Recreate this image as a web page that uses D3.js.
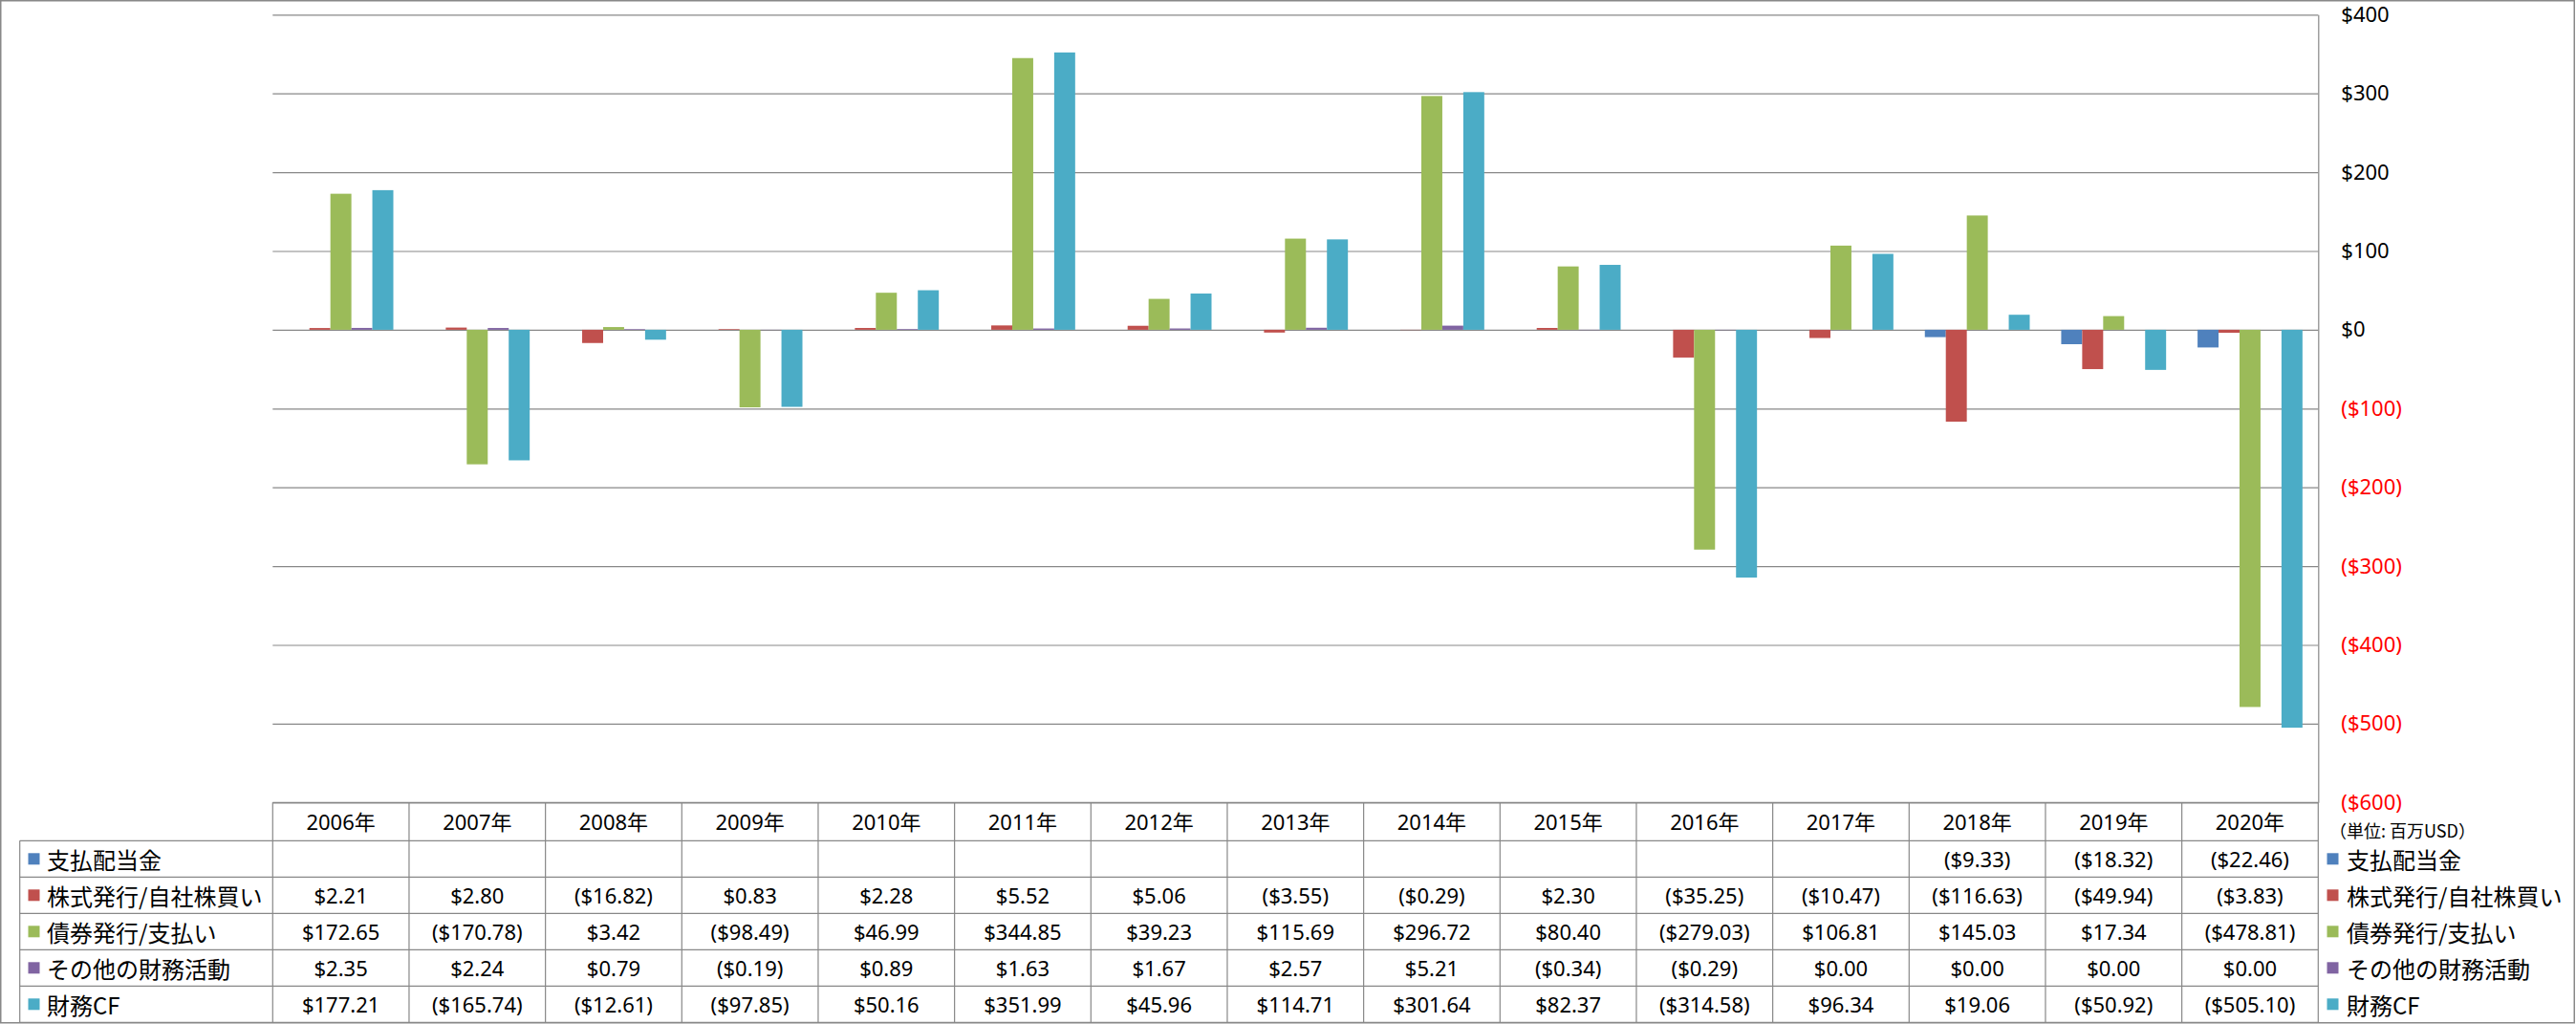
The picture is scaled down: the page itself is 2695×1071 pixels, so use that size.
<!DOCTYPE html>
<html>
<head>
<meta charset="utf-8">
<script src="https://cdn.jsdelivr.net/npm/d3@7"></script>
<style>
  html, body { margin: 0; padding: 0; background: #fff; }
  svg { display: block; }
</style>
</head>
<body>
<svg id="chart" width="2695" height="1071"></svg>
<script>
// ---------- DATA ----------
const years = ["2006年","2007年","2008年","2009年","2010年","2011年","2012年","2013年","2014年","2015年","2016年","2017年","2018年","2019年","2020年"];
const seriesNames = ["支払配当金","株式発行/自社株買い","債券発行/支払い","その他の財務活動","財務CF"];
const dividends  = [null,null,null,null,null,null,null,null,null,null,null,null,-9.33,-18.32,-22.46];
const stockIssue = [2.21,2.80,-16.82,0.83,2.28,5.52,5.06,-3.55,-0.29,2.30,-35.25,-10.47,-116.63,-49.94,-3.83];
const debtIssue  = [172.65,-170.78,3.42,-98.49,46.99,344.85,39.23,115.69,296.72,80.40,-279.03,106.81,145.03,17.34,-478.81];
const otherFin   = [2.35,2.24,0.79,-0.19,0.89,1.63,1.67,2.57,5.21,-0.34,-0.29,0.00,0.00,0.00,0.00];
const financeCF  = [177.21,-165.74,-12.61,-97.85,50.16,351.99,45.96,114.71,301.64,82.37,-314.58,96.34,19.06,-50.92,-505.10];
const tickValues = [400,300,200,100,0,-100,-200,-300,-400,-500,-600];
const unitLabel = "（単位: 百万USD）";
const colors = ["#4F81BD","#C0504D","#9BBB59","#8064A2","#4BACC6"];

const seriesValues = [dividends, stockIssue, debtIssue, otherFin, financeCF];

// ---------- LAYOUT ----------
const svg = d3.select("#chart");
const W = 2695, H = 1071;
const plotL = 285.3, plotR = 2425.3, plotT = 15.3, plotB = 839.3;
const rowTop = 839.3, headerH = 40, rowH = 38;
const legendColL = 20.7;
const gridColor = "#888888";
const latinFont = "'Noto Sans', 'Noto Sans CJK JP', sans-serif";
const cjkFont = "'Noto Sans CJK JP', 'Noto Sans', sans-serif";

// outer border
svg.append("rect").attr("x", 0.75).attr("y", 0.75).attr("width", W - 2.5).attr("height", H - 2)
  .attr("fill", "#fff").attr("stroke", gridColor).attr("stroke-width", 1.5);

const x = d3.scaleBand().domain(years).range([plotL, plotR]).paddingInner(0).paddingOuter(0);
const xs = d3.scaleBand().domain(seriesNames).range([0, x.bandwidth()]).paddingInner(0).paddingOuter(0.75);
const y = d3.scaleLinear().domain([-600, 400]).range([plotB, plotT]);

// gridlines + right axis line
const grid = svg.append("g").attr("transform", `translate(${plotR},0)`)
  .call(d3.axisLeft(y).tickValues(tickValues).tickSizeInner(plotR - plotL).tickSizeOuter(0).tickFormat(""));
grid.selectAll("line").attr("stroke", gridColor).attr("stroke-width", 1.2);
grid.select(".domain").attr("stroke", gridColor).attr("stroke-width", 1.2);

// tick labels on right
const fmtTick = v => v < 0 ? `($${Math.abs(v)})` : `$${v}`;
const labAxis = svg.append("g").attr("transform", `translate(${plotR},0)`)
  .call(d3.axisRight(y).tickValues(tickValues).tickSize(0).tickPadding(24).tickFormat(fmtTick));
labAxis.select(".domain").remove();
labAxis.selectAll("text")
  .attr("font-family", latinFont).attr("font-size", 22)
  .attr("fill", d => d < 0 ? "#FF0000" : "#000");

// bars
const barData = [];
seriesValues.forEach((arr, si) => {
  arr.forEach((v, yi) => {
    if (v !== null) barData.push({ year: years[yi], series: seriesNames[si], si, v });
  });
});
svg.append("g").selectAll("rect").data(barData).join("rect")
  .attr("x", d => x(d.year) + xs(d.series))
  .attr("width", xs.bandwidth())
  .attr("y", d => Math.min(y(d.v), y(0)))
  .attr("height", d => Math.abs(y(d.v) - y(0)))
  .attr("fill", d => colors[d.si]);

// ---------- DATA TABLE ----------
const tbl = svg.append("g");
const rowsBottom = rowTop + headerH + rowH * seriesNames.length;
// header top line
tbl.append("line").attr("x1", plotL).attr("x2", plotR).attr("y1", rowTop).attr("y2", rowTop)
  .attr("stroke", gridColor).attr("stroke-width", 1.2);
// horizontal row lines
for (let i = 0; i <= seriesNames.length; i++) {
  const yy = rowTop + headerH + rowH * i;
  tbl.append("line").attr("x1", legendColL).attr("x2", plotR).attr("y1", yy).attr("y2", yy)
    .attr("stroke", gridColor).attr("stroke-width", 1.2);
}
// vertical lines
years.forEach(yr => {
  tbl.append("line").attr("x1", x(yr)).attr("x2", x(yr)).attr("y1", rowTop).attr("y2", rowsBottom)
    .attr("stroke", gridColor).attr("stroke-width", 1.2);
});
tbl.append("line").attr("x1", plotR).attr("x2", plotR).attr("y1", rowTop).attr("y2", rowsBottom)
  .attr("stroke", gridColor).attr("stroke-width", 1.2);
tbl.append("line").attr("x1", legendColL).attr("x2", legendColL).attr("y1", rowTop + headerH).attr("y2", rowsBottom)
  .attr("stroke", gridColor).attr("stroke-width", 1.2);

// header text
tbl.selectAll("text.hdr").data(years).join("text").attr("class", "hdr")
  .attr("x", d => x(d) + x.bandwidth() / 2)
  .attr("y", rowTop + headerH / 2)
  .attr("text-anchor", "middle").attr("dominant-baseline", "central")
  .attr("font-family", latinFont).attr("font-size", 22).attr("fill", "#000")
  .text(d => d);

// cell values
const fmtVal = v => v === null ? "" : (v < 0 ? `($${d3.format(".2f")(Math.abs(v))})` : `$${d3.format(".2f")(v)}`);
seriesValues.forEach((arr, si) => {
  const cy = rowTop + headerH + rowH * si + rowH / 2;
  tbl.append("g").selectAll("text").data(arr).join("text")
    .attr("x", (d, i) => x(years[i]) + x.bandwidth() / 2)
    .attr("y", cy)
    .attr("text-anchor", "middle").attr("dominant-baseline", "central")
    .attr("font-family", latinFont).attr("font-size", 22).attr("fill", "#000")
    .text(d => fmtVal(d));
  // left legend key
  tbl.append("rect").attr("x", 29.5).attr("y", cy - 6).attr("width", 12).attr("height", 12).attr("fill", colors[si]);
  tbl.append("text").attr("x", 49).attr("y", cy)
    .attr("dominant-baseline", "central")
    .attr("font-family", cjkFont).attr("font-size", 24).attr("fill", "#000")
    .text(seriesNames[si]);
  // right legend
  tbl.append("rect").attr("x", 2434.5).attr("y", cy - 6).attr("width", 12).attr("height", 12).attr("fill", colors[si]);
  tbl.append("text").attr("x", 2455).attr("y", cy)
    .attr("dominant-baseline", "central")
    .attr("font-family", cjkFont).attr("font-size", 24).attr("fill", "#000")
    .text(seriesNames[si]);
});

// unit label
svg.append("text").attr("x", 2437).attr("y", 868)
  .attr("dominant-baseline", "central")
  .attr("font-family", cjkFont).attr("font-size", 18).attr("fill", "#000")
  .text(unitLabel);
</script>
</body>
</html>
